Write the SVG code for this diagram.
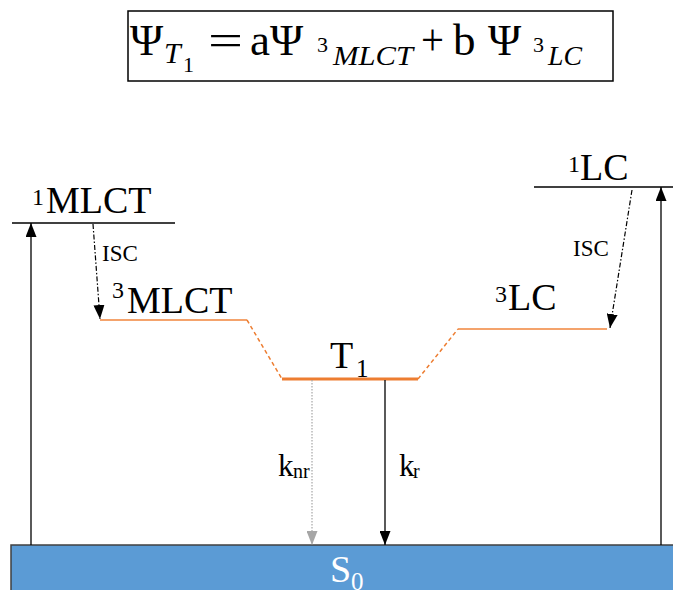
<svg xmlns="http://www.w3.org/2000/svg" width="673" height="590" viewBox="0 0 673 590">
<style>
text{font-family:'Liberation Serif','Tinos','Times New Roman','DejaVu Serif','Noto Serif',serif}
.it{font-style:italic}
.lvl{stroke:#000;stroke-width:1.5;fill:none}
.orl{stroke:#F4A36C;stroke-width:1.8;fill:none}
.ort{stroke:#ED7D31;stroke-width:3;fill:none}
.ordash{stroke:#ED7D31;stroke-width:1.5;stroke-dasharray:4,3;fill:none}
.arr{stroke:#000;stroke-width:1.3;fill:none;marker-end:url(#ah)}
.isc{stroke:#000;stroke-width:1.2;stroke-dasharray:5,2,1.5,2;fill:none;marker-end:url(#ah)}
.nr{stroke:#A6A6A6;stroke-width:1.2;stroke-dasharray:1.5,1.5;fill:none;marker-end:url(#ahg)}
.w{fill:#fff}
</style>
<defs>
<marker id="ah" markerUnits="userSpaceOnUse" markerWidth="14" markerHeight="11" refX="14" refY="5.5" orient="auto">
<path d="M0,0 L14,5.5 L0,11 z" fill="#000"/>
</marker>
<marker id="ahg" markerUnits="userSpaceOnUse" markerWidth="14" markerHeight="11" refX="14" refY="5.5" orient="auto">
<path d="M0,0 L14,5.5 L0,11 z" fill="#A6A6A6"/>
</marker>
</defs>
<rect width="673" height="590" fill="#fff"/>

<g id="formula">
<rect x="128" y="11" width="485" height="70" fill="#fff" stroke="#000" stroke-width="1.5"/>
<text x="130" y="55" font-size="45">Ψ</text>
<text class="it" x="164" y="63" font-size="30">T</text>
<text x="183" y="72" font-size="22">1</text>
<text x="208" y="55" font-size="45" textLength="35" lengthAdjust="spacingAndGlyphs">=</text>
<text x="250" y="55" font-size="45">a</text>
<text x="270" y="55" font-size="45">Ψ</text>
<text x="317" y="52" font-size="22">3</text>
<text class="it" x="333" y="65" font-size="28" textLength="80" lengthAdjust="spacingAndGlyphs">MLCT</text>
<text x="421" y="55" font-size="45" textLength="23" lengthAdjust="spacingAndGlyphs">+</text>
<text x="453" y="55" font-size="45">b</text>
<text x="488" y="55" font-size="45">Ψ</text>
<text x="533" y="52" font-size="22">3</text>
<text class="it" x="548" y="65" font-size="28" textLength="34" lengthAdjust="spacingAndGlyphs">LC</text>
</g>

<g id="S0">
<rect x="11" y="545" width="672" height="60" fill="#5B9BD5" stroke="#404040" stroke-width="1.5"/>
<text class="w" x="330" y="582" font-size="38">S</text>
<text class="w" x="351" y="590" font-size="25">0</text>
</g>

<g id="level-1MLCT">
<line class="lvl" x1="12" y1="223" x2="175" y2="223"/>
<text x="32" y="205" font-size="24">1</text>
<text x="46" y="213" font-size="38">MLCT</text>
</g>

<g id="level-3MLCT">
<line class="orl" x1="100" y1="320" x2="247" y2="320"/>
<text x="112" y="298" font-size="24">3</text>
<text x="127" y="313" font-size="38">MLCT</text>
</g>

<g id="level-T1">
<line class="ort" x1="282" y1="379" x2="418" y2="379"/>
<text x="330" y="368" font-size="38">T</text>
<text x="356" y="377" font-size="25">1</text>
</g>

<g id="level-3LC">
<line class="orl" x1="458" y1="329" x2="607" y2="329"/>
<text x="495" y="302" font-size="24">3</text>
<text x="508" y="310" font-size="38">LC</text>
</g>

<g id="level-1LC">
<line class="lvl" x1="534" y1="187" x2="673" y2="187"/>
<text x="568" y="172" font-size="24">1</text>
<text x="580" y="180" font-size="38">LC</text>
</g>

<g id="connectors">
<line class="ordash" x1="247" y1="320" x2="282" y2="379"/>
<line class="ordash" x1="418" y1="379" x2="458" y2="329"/>
<line class="arr" x1="31" y1="545" x2="31" y2="223"/>
<line class="arr" x1="661" y1="545" x2="661" y2="187"/>
<line class="isc" x1="93" y1="224" x2="100" y2="319"/>
<line class="isc" x1="632" y1="190" x2="610" y2="328"/>
<line class="nr" x1="312" y1="380" x2="312" y2="545"/>
<line class="arr" x1="385" y1="380" x2="385" y2="545"/>
<text x="102" y="261" font-size="23">ISC</text>
<text x="573" y="256" font-size="23">ISC</text>
<text x="278" y="476" font-size="31">k</text>
<text x="293" y="478" font-size="20">nr</text>
<text x="399" y="476" font-size="31">k</text>
<text x="413" y="478" font-size="20">r</text>
</g>
</svg>
